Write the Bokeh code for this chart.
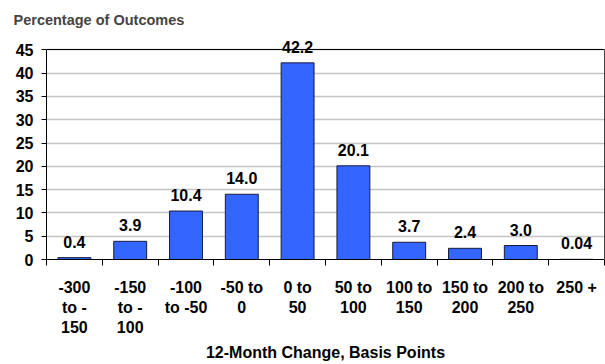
from bokeh.plotting import figure
from bokeh.models import ColumnDataSource, FixedTicker, LabelSet, Range1d, LinearAxis, Grid, Title
from bokeh.core.properties import value
from bokeh.embed import file_html
from bokeh.resources import INLINE

categories = ["-300\nto -\n150", "-150\nto -\n100", "-100\nto -50", "-50 to\n0", "0 to\n50",
              "50 to\n100", "100 to\n150", "150 to\n200", "200 to\n250", "250 +"]
values = [0.4, 3.9, 10.4, 14.0, 42.2, 20.1, 3.7, 2.4, 3.0, 0.04]
value_labels = ["0.4", "3.9", "10.4", "14.0", "42.2", "20.1", "3.7", "2.4", "3.0", "0.04"]
y_ticks = [0, 5, 10, 15, 20, 25, 30, 35, 40, 45]
y_max = 45

FONT = "Liberation Sans"

xs = [i + 0.5 for i in range(len(categories))]
src = ColumnDataSource(dict(x=xs, top=values, label=value_labels))

p = figure(width=605, height=364, output_backend="svg", toolbar_location=None,
           x_range=Range1d(0, len(categories)), y_range=Range1d(0, 48.5),
           min_border_left=46, min_border_right=1, min_border_top=33, min_border_bottom=105)

p.title.text = "Percentage of Outcomes"
p.title.text_font = FONT
p.title.text_font_size = "14.5px"
p.title.text_font_style = "bold"
p.title.align = "left"
p.title.offset = -33
p.title.vertical_align = "middle"

p.vbar(x="x", top="top", width=0.59, bottom=0, source=src,
       fill_color="#3366FF", line_color="#1a1a3a", line_width=1)

labels = LabelSet(x="x", y="top", text="label", source=src, text_align="center",
                  text_baseline="alphabetic", y_offset=10, text_font=value(FONT),
                  text_font_size=value("16px"), text_font_style="bold", text_color="black")
p.add_layout(labels)

p.outline_line_color = None

xa = p.xaxis[0]
xa.ticker = FixedTicker(ticks=xs, minor_ticks=list(range(len(categories) + 1)))
xa.major_label_overrides = {x: c for x, c in zip(xs, categories)}
xa.major_tick_out = 0
xa.major_tick_in = 0
xa.minor_tick_out = 6
xa.minor_tick_in = 0
xa.minor_tick_line_color = "black"
xa.axis_line_color = "black"
xa.major_label_text_font = FONT
xa.major_label_text_font_size = "16px"
xa.major_label_text_font_style = "bold"
xa.major_label_text_color = "black"
xa.major_label_text_line_height = 1.2
xa.major_label_standoff = 13

x_title = Title(text="12-Month Change, Basis Points", align="center", standoff=4,
                text_font=FONT, text_font_size="16px", text_font_style="bold",
                text_color="black")
p.add_layout(x_title, "below")

ya = p.yaxis[0]
ya.ticker = FixedTicker(ticks=y_ticks, minor_ticks=[])
ya.bounds = (0, y_max)
ya.major_tick_out = 5
ya.major_tick_in = 0
ya.major_tick_line_color = "black"
ya.axis_line_color = "black"
ya.major_label_text_font = FONT
ya.major_label_text_font_size = "16px"
ya.major_label_text_font_style = "bold"
ya.major_label_text_color = "black"
ya.major_label_standoff = 8

ra = LinearAxis(ticker=FixedTicker(ticks=[], minor_ticks=[]), bounds=(0, y_max),
                major_tick_out=0, major_tick_in=0, major_label_standoff=0,
                axis_line_color="#444444", major_label_text_font_size="0px")
p.add_layout(ra, "right")

p.xgrid.grid_line_color = None
p.ygrid.ticker = FixedTicker(ticks=y_ticks)
p.ygrid.grid_line_color = "#c4c4c4"
p.ygrid.grid_line_width = 1.5

top_line = Grid(dimension=1, ticker=FixedTicker(ticks=[y_max]),
                grid_line_color="black", grid_line_width=1)
p.add_layout(top_line)

open("out.html", "w").write(file_html(p, INLINE))
